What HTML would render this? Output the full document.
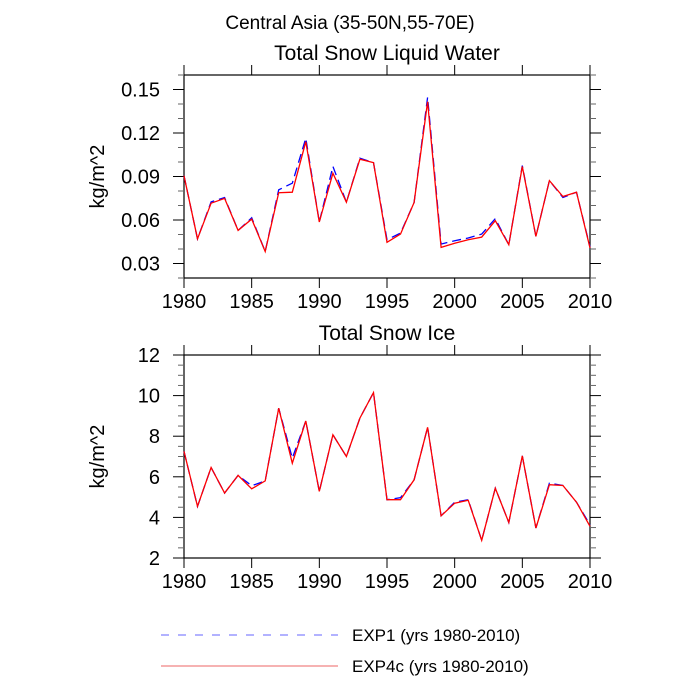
<!DOCTYPE html>
<html><head><meta charset="utf-8"><style>
body{margin:0;background:#fff;}
svg{display:block;font-family:"Liberation Sans",Arial,sans-serif;}
</style></head><body>
<svg id="c" width="700" height="700"></svg>
<script>
const years=[];for(let y=1980;y<=2010;y++)years.push(y);
const liqExp1=[0.0905,0.047,0.0725,0.0755,0.0528,0.0615,0.0383,0.0808,0.0854,0.1164,0.0586,0.097,0.0723,0.1026,0.0996,0.0464,0.051,0.0721,0.1446,0.0434,0.0457,0.0476,0.0503,0.061,0.043,0.0975,0.0487,0.0872,0.0755,0.0792,0.0414];
const liqExp4c=[0.0905,0.047,0.0716,0.0749,0.0528,0.0606,0.0383,0.0788,0.0792,0.114,0.0586,0.0923,0.0723,0.1019,0.0996,0.0446,0.0503,0.0721,0.1416,0.0411,0.044,0.0464,0.0482,0.0595,0.043,0.0969,0.0487,0.0872,0.0762,0.0792,0.0407];
const iceExp1=[7.25,4.54,6.46,5.2,6.07,5.56,5.8,9.38,6.92,8.75,5.28,8.07,7.0,8.89,10.15,4.87,4.97,5.85,8.44,4.08,4.75,4.87,2.87,5.44,3.75,7.03,3.48,5.69,5.57,4.75,3.64];
const iceExp4c=[7.25,4.54,6.46,5.2,6.07,5.41,5.8,9.38,6.67,8.75,5.28,8.07,7.0,8.89,10.15,4.87,4.87,5.85,8.44,4.08,4.7,4.84,2.87,5.44,3.75,7.03,3.48,5.61,5.57,4.75,3.56];
const xTicks=[1980,1985,1990,1995,2000,2005,2010];
const liqTicks=[0.03,0.06,0.09,0.12,0.15];
const iceTicks=[2,4,6,8,10,12];
const NS="http://www.w3.org/2000/svg";
const svg=document.getElementById('c');
function mk(t,a,p){const e=document.createElementNS(NS,t);for(const k in a)e.setAttribute(k,a[k]);(p||svg).appendChild(e);return e;}
function txt(x,y,s,size,anchor,name,rot){const e=mk('text',{x:x,y:y,'font-size':size,'text-anchor':anchor||'middle',fill:'#000'});if(rot)e.setAttribute('transform','rotate(-90 '+x+' '+y+')');e.textContent=s;


return e;}
txt(350,29,'Central Asia (35-50N,55-70E)',19,'middle','main-title');
function panel(id,top,bot,ymin,ymax,ticks,minorStep,fmt,title,s1,s2){
 const L=184,R=590;
 const g=mk('g',{});
 
 
 const xs=v=>L+(v-1980)/30*(R-L);
 const ys=v=>bot-(v-ymin)/(ymax-ymin)*(bot-top);
 txt(387,top-15,title,21,'middle',id+'-title');
 mk('rect',{x:L,y:top,width:R-L,height:bot-top,fill:'none',stroke:'#000','stroke-width':1.2},g);
 for(const t of xTicks){const x=xs(t);
  mk('line',{x1:x,x2:x,y1:top,y2:top-10,stroke:'#000'},g);
  mk('line',{x1:x,x2:x,y1:bot,y2:bot+10,stroke:'#000'},g);
  txt(x,bot+30,String(t),20,'middle',id+'-x-tick-label');}
 const n=Math.round((ymax-ymin)/minorStep);
 for(let i=0;i<=n;i++){const v=ymin+i*minorStep;const y=ys(v);
  const major=ticks.some(t=>Math.abs(t-v)<1e-9);const len=major?11:6;
  mk('line',{x1:L,x2:L-len,y1:y,y2:y,stroke:major?'#000':'#666'},g);
  mk('line',{x1:R,x2:R+len,y1:y,y2:y,stroke:major?'#000':'#666'},g);}
 for(const t of ticks)txt(160,ys(t)+7,fmt(t),20,'end',id+'-y-tick-label');
 txt(104,(top+bot)/2,'kg/m^2',20,'middle',id+'-y-axis-title',true);
 const p1=years.map((y,i)=>xs(y).toFixed(1)+','+ys(s1[i]).toFixed(1)).join(' ');
 const p2=years.map((y,i)=>xs(y).toFixed(1)+','+ys(s2[i]).toFixed(1)).join(' ');
 const a=mk('polyline',{points:p1,fill:'none',stroke:'#0000ff','stroke-width':1.3,'stroke-dasharray':'9,5'},g);
 
 
 const b=mk('polyline',{points:p2,fill:'none',stroke:'#ff0000','stroke-width':1.3},g);
 
 
}
panel('liquid',75,278,0.02,0.16,liqTicks,0.01,v=>v.toFixed(2),'Total Snow Liquid Water',liqExp1,liqExp4c);
panel('ice',355,558,2,12,iceTicks,0.5,v=>String(v),'Total Snow Ice',iceExp1,iceExp4c);
const l1=mk('line',{x1:161,x2:338,y1:635,y2:635,stroke:'#6666ff','stroke-width':1,'stroke-dasharray':'8,9'});


txt(352,641,'EXP1 (yrs 1980-2010)',17,'start','legend-exp1-label');
const l2=mk('line',{x1:161,x2:338,y1:666,y2:666,stroke:'#ee6666','stroke-width':1});


txt(352,672,'EXP4c (yrs 1980-2010)',17,'start','legend-exp4c-label');
</script>
</body></html>
